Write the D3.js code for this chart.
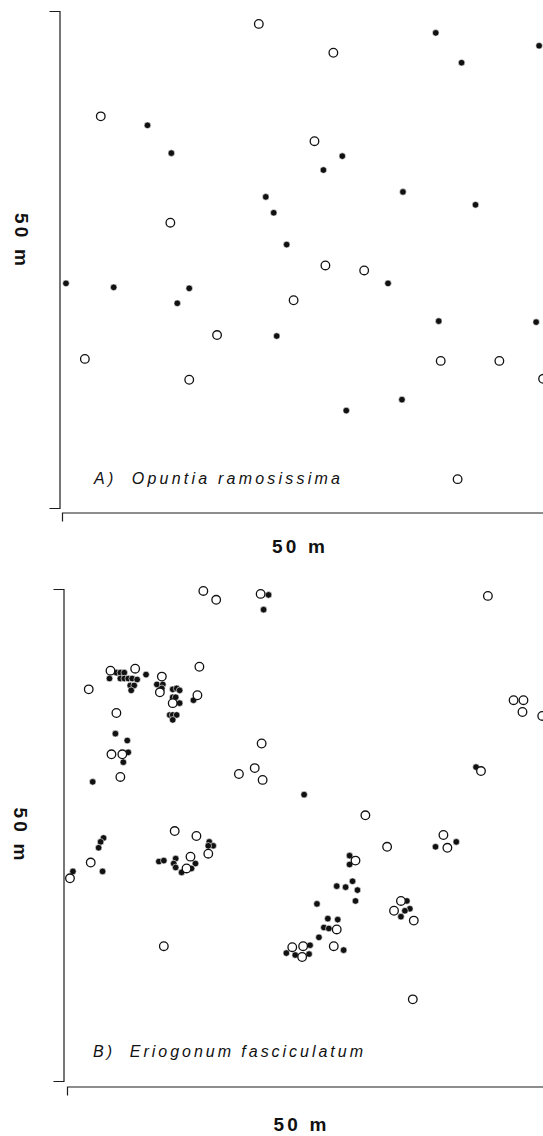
<!DOCTYPE html>
<html>
<head>
<meta charset="utf-8">
<script src="https://cdn.jsdelivr.net/npm/d3@7"></script>
<style>
  html, body { margin: 0; padding: 0; background: #fff; }
  svg { display: block; }
  text { fill: #111; }
</style>
</head>
<body>
<svg id="chart" width="543" height="1136"></svg>
<script>
// Plant positions (metres) inside a 50 m × 50 m plot; origin at lower-left corner.
const plotSize = [0, 50];

// A) Opuntia ramosissima
const opuntiaOpen = [
  [19.8, 48.7], [27.3, 45.8], [3.9, 39.4], [25.4, 36.9], [10.9, 28.7],
  [26.5, 24.4], [30.4, 23.9], [23.3, 20.9], [15.6, 17.4], [2.3, 15.0],
  [38.1, 14.8], [44.0, 14.8], [48.4, 13.0], [12.8, 12.9], [39.8, 2.9]
];
const opuntiaFilled = [
  [37.6, 47.8], [48.0, 46.5], [40.2, 44.8], [8.6, 38.5], [11.0, 35.7],
  [28.2, 35.4], [26.3, 34.0], [34.3, 31.8], [20.5, 31.3], [21.3, 29.7],
  [41.6, 30.5], [22.6, 26.5], [0.4, 22.6], [5.2, 22.2], [12.8, 22.1],
  [11.6, 20.6], [32.8, 22.6], [37.9, 18.8], [47.7, 18.7], [21.6, 17.3],
  [34.2, 10.9], [28.6, 9.8]
];

// B) Eriogonum fasciculatum
const eriogonumOpen = [
  [13.8, 49.8], [15.1, 48.9], [19.6, 49.5], [42.6, 49.3], [13.4, 42.1],
  [4.4, 41.7], [6.9, 41.9], [9.6, 41.1], [2.2, 39.8], [9.4, 39.5],
  [13.2, 39.2], [10.7, 38.4], [5.0, 37.4], [45.2, 38.7], [46.2, 38.7],
  [46.1, 37.5], [48.1, 37.1], [4.5, 33.2], [5.6, 33.2], [19.7, 34.3],
  [19.0, 31.8], [17.4, 31.2], [19.8, 30.6], [5.4, 30.9], [41.9, 31.5],
  [30.2, 27.0], [10.9, 25.4], [13.1, 24.9], [14.3, 23.1], [2.4, 22.2],
  [0.3, 20.6], [12.5, 22.8], [12.1, 21.6], [32.4, 23.8], [38.1, 25.0],
  [38.5, 23.7], [29.2, 22.4], [33.8, 18.3], [33.1, 17.3], [35.1, 16.3],
  [27.3, 15.4], [27.0, 13.7], [22.8, 13.6], [23.9, 13.7], [23.8, 12.6],
  [9.8, 13.7], [35.0, 8.3]
];
const eriogonumFilled = [
  [5.0, 41.5], [5.4, 41.5], [5.8, 41.5], [4.3, 40.9], [5.4, 40.9],
  [5.8, 40.9], [6.2, 40.9], [6.6, 40.9], [7.1, 40.8], [8.0, 41.3],
  [6.4, 40.2], [6.8, 40.2], [6.5, 39.7],
  [9.1, 40.3], [9.7, 40.3], [9.6, 39.9], [10.7, 39.8], [11.1, 39.9],
  [11.4, 39.7], [10.7, 39.0], [11.0, 39.0], [11.4, 38.4], [10.4, 37.2],
  [10.7, 37.2], [11.1, 37.2], [10.7, 36.7], [12.8, 38.7],
  [20.4, 49.4], [19.9, 47.9],
  [4.9, 35.3], [6.1, 34.6], [6.2, 33.4], [5.7, 32.4], [2.6, 30.4],
  [3.7, 24.7], [3.4, 24.3], [3.2, 23.7], [3.6, 21.3], [0.6, 21.3],
  [9.3, 22.3], [9.8, 22.4], [11.0, 22.6], [10.8, 22.1], [11.0, 21.7],
  [11.6, 21.2], [13.0, 22.1], [12.6, 21.6], [14.4, 24.3], [14.8, 23.9],
  [14.3, 23.9],
  [24.0, 29.1], [41.4, 31.9], [37.3, 23.8], [39.4, 24.3],
  [28.6, 22.9], [28.6, 22.0], [28.9, 20.3], [27.3, 19.8], [28.2, 19.7],
  [29.4, 19.4], [29.2, 18.3], [25.3, 18.0], [26.4, 16.5], [27.4, 16.4],
  [26.0, 15.6], [26.5, 15.5], [25.5, 14.6], [28.0, 13.3], [24.6, 13.8],
  [22.2, 13.0], [23.1, 12.8], [24.5, 12.9],
  [34.4, 18.3], [34.7, 17.5], [34.2, 17.3], [33.8, 16.7]
];

const panelTitles = ["A)  Opuntia ramosissima", "B)  Eriogonum fasciculatum"];
const scaleLabel = "50 m";

// Layout for the two stacked plot panels
const panels = [
  {
    title: panelTitles[0], open: opuntiaOpen, filled: opuntiaFilled,
    yAxisX: 59.5, yRange: [508, 11],
    xAxisY: 512.5, xRange: [62, 559],
    titleX: 94, titleY: 484, titleLen: 246,
    sideX: 15, sideY: 239.5,
    bottomX: 298.5, bottomY: 553
  },
  {
    title: panelTitles[1], open: eriogonumOpen, filled: eriogonumFilled,
    yAxisX: 63.5, yRange: [1081, 589],
    xAxisY: 1086.5, xRange: [67, 561],
    titleX: 93, titleY: 1057, titleLen: 270,
    sideX: 14, sideY: 834,
    bottomX: 300, bottomY: 1131
  }
];

const svg = d3.select("#chart");

panels.forEach(p => {
  const x = d3.scaleLinear().domain(plotSize).range(p.xRange);
  const y = d3.scaleLinear().domain(plotSize).range(p.yRange);
  const g = svg.append("g");

  // Bracket-style axes: domain line with outer ticks only
  const yAxis = g.append("g")
    .attr("transform", `translate(${p.yAxisX},0)`)
    .call(d3.axisLeft(y).tickValues([]).tickSizeOuter(10));
  const xAxis = g.append("g")
    .attr("transform", `translate(0,${p.xAxisY})`)
    .call(d3.axisBottom(x).tickValues([]).tickSizeOuter(9));
  [yAxis, xAxis].forEach(a => a.select(".domain")
    .attr("stroke", "#1c1c1c").attr("stroke-width", 1.2));

  // Filled symbols first, open circles on top
  g.append("g").selectAll("circle")
    .data(p.filled).join("circle")
    .attr("cx", d => x(d[0])).attr("cy", d => y(d[1]))
    .attr("r", 3.3)
    .attr("fill", "#111").attr("stroke", "#fff").attr("stroke-width", 0.6);

  g.append("g").selectAll("circle")
    .data(p.open).join("circle")
    .attr("cx", d => x(d[0])).attr("cy", d => y(d[1]))
    .attr("r", 4.3)
    .attr("fill", "#fff").attr("stroke", "#111").attr("stroke-width", 1.3);

  // Species title inside the plot
  g.append("text")
    .attr("x", p.titleX).attr("y", p.titleY)
    .attr("font-family", "'Liberation Sans', Arial, sans-serif")
    .attr("font-style", "italic")
    .attr("font-size", 16)
    .attr("textLength", p.titleLen)
    .attr("lengthAdjust", "spacing")
    .style("white-space", "pre")
    .text(p.title);

  // Scale labels
  g.append("text")
    .attr("transform", `translate(${p.sideX},${p.sideY}) rotate(90)`)
    .attr("text-anchor", "middle")
    .attr("font-family", "'Liberation Sans', Arial, sans-serif")
    .attr("font-weight", "bold")
    .attr("font-size", 19)
    .attr("textLength", 53)
    .attr("lengthAdjust", "spacing")
    .text(scaleLabel);

  g.append("text")
    .attr("x", p.bottomX).attr("y", p.bottomY)
    .attr("text-anchor", "middle")
    .attr("font-family", "'Liberation Sans', Arial, sans-serif")
    .attr("font-weight", "bold")
    .attr("font-size", 19)
    .attr("textLength", 53)
    .attr("lengthAdjust", "spacing")
    .text(scaleLabel);
});
</script>
</body>
</html>
